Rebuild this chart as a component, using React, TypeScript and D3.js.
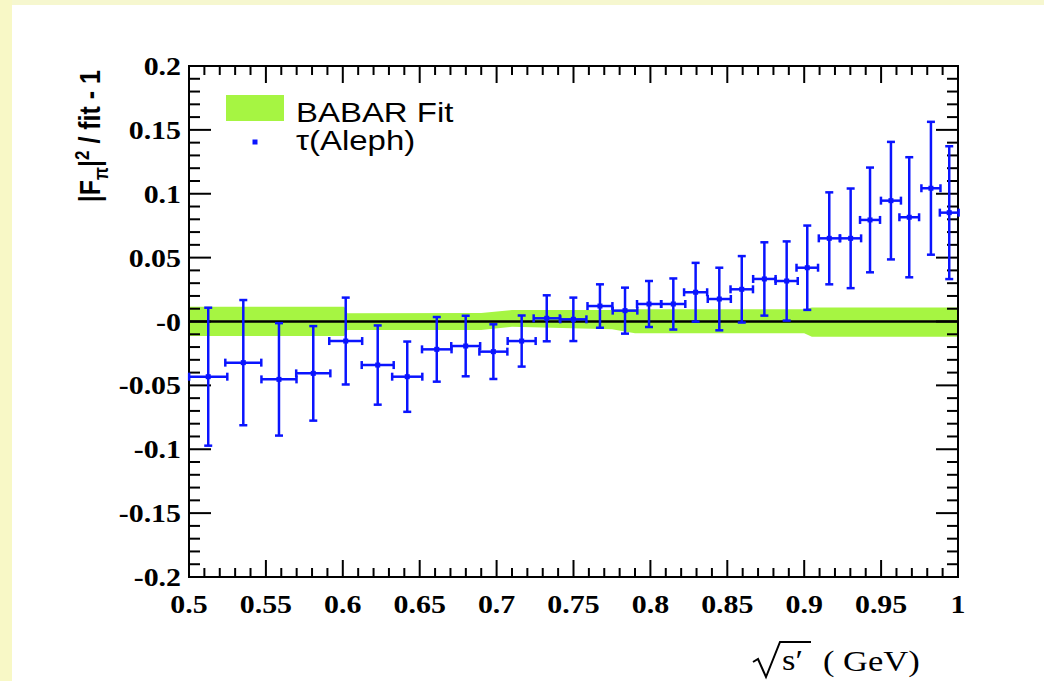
import React from "react";
import * as d3 from "d3";

// ---- data ----
const xVals = [0.5125, 0.5353, 0.5585, 0.5808, 0.6019, 0.6227, 0.6419, 0.6611, 0.6799, 0.6979, 0.7163, 0.7326, 0.7499, 0.7672, 0.7835, 0.7991, 0.8149, 0.8294, 0.8448, 0.8594, 0.8741, 0.8886, 0.902, 0.9163, 0.9302, 0.9428, 0.9564, 0.9683, 0.9824, 0.9943];
const xErr = [0.0124, 0.0117, 0.0114, 0.0111, 0.0107, 0.0104, 0.0098, 0.0096, 0.0094, 0.0091, 0.0091, 0.0085, 0.0085, 0.0081, 0.008, 0.0078, 0.0078, 0.0075, 0.0075, 0.0073, 0.0073, 0.0072, 0.007, 0.0068, 0.0068, 0.0065, 0.0065, 0.0064, 0.0062, 0.0061];
const yVals = [-0.0432, -0.0322, -0.0453, -0.0406, -0.0153, -0.0341, -0.0432, -0.0218, -0.0192, -0.0236, -0.0153, 0.0025, 0.0017, 0.0121, 0.0085, 0.0137, 0.0137, 0.0229, 0.0176, 0.0252, 0.0333, 0.0317, 0.0421, 0.0651, 0.0651, 0.0795, 0.0946, 0.0816, 0.1043, 0.0852];
const yErr = [0.054, 0.049, 0.044, 0.037, 0.034, 0.031, 0.0275, 0.0253, 0.0237, 0.0214, 0.02, 0.018, 0.017, 0.017, 0.018, 0.018, 0.02, 0.023, 0.0245, 0.026, 0.0287, 0.031, 0.033, 0.036, 0.039, 0.041, 0.046, 0.047, 0.052, 0.052];

const bandX = [0.5, 0.601, 0.603, 0.69, 0.71, 0.775, 0.79, 0.9, 0.905, 1.0];
const bandHi = [0.0116, 0.0116, 0.0064, 0.0066, 0.009, 0.009, 0.0095, 0.0095, 0.011, 0.011];
const bandLo = [-0.0114, -0.0114, -0.0067, -0.0067, -0.0041, -0.006, -0.0092, -0.0092, -0.012, -0.012];

const xTickVals = [0.5, 0.55, 0.6, 0.65, 0.7, 0.75, 0.8, 0.85, 0.9, 0.95, 1.0];
const xTickLabels = ["0.5", "0.55", "0.6", "0.65", "0.7", "0.75", "0.8", "0.85", "0.9", "0.95", "1"];
const yTickVals = [0.2, 0.15, 0.1, 0.05, 0, -0.05, -0.1, -0.15, -0.2];
const yTickLabels = ["0.2", "0.15", "0.1", "0.05", "-0", "-0.05", "-0.1", "-0.15", "-0.2"];

const legendLabels = ["BABAR Fit", "τ(Aleph)"];

// ---- layout ----
const W = 1044, H = 681;
const L = 189, R = 958, T = 66, B = 577;
const SX = 1.15;
const BLUE = "#0a14ff";
const GREEN = "#a6f542";

export default function App() {
  const x = d3.scaleLinear().domain([0.5, 1.0]).range([L, R]);
  const y = d3.scaleLinear().domain([-0.2, 0.2]).range([B, T]);

  const xMinor = d3.range(0, 51).map((i) => 0.5 + i * 0.01);
  const yMinor = d3.range(0, 41).map((i) => -0.2 + i * 0.01);

  const band = d3
    .area<number>()
    .x((_, i) => x(bandX[i]))
    .y0((_, i) => y(bandLo[i]))
    .y1((_, i) => y(bandHi[i]))(bandX);

  const isMajor = (v: number) => Math.abs(v * 20 - Math.round(v * 20)) < 1e-6;

  const tickStyle = { stroke: "#000", strokeWidth: 2 };
  const cap = 4;

  return (
    <div style={{ position: "fixed", left: 0, top: 0, width: W, height: H }}>
      <svg width={W} height={H} style={{ display: "block" }}>
        <rect x={0} y={0} width={W} height={H} fill="#ffffff" />
        <rect x={0} y={0} width={W} height={5} fill="#f6f7cf" />
        <rect x={0} y={0} width={12} height={H} fill="#f8f8c6" />

        {/* band */}
        <path d={band || ""} fill={GREEN} />
        {/* zero line */}
        <line x1={L} x2={R} y1={y(0)} y2={y(0)} stroke="#000" strokeWidth={2.5} />

        {/* ticks */}
        {xMinor.slice(1, -1).map((v, i) => {
          const len = isMajor(v) ? 17 : 9;
          return (
            <g key={"xt" + i}>
              <line x1={x(v)} x2={x(v)} y1={B} y2={B - len} {...tickStyle} />
              <line x1={x(v)} x2={x(v)} y1={T} y2={T + len} {...tickStyle} />
            </g>
          );
        })}
        {yMinor.slice(1, -1).map((v, i) => {
          const len = isMajor(v) ? 22 : 11;
          return (
            <g key={"yt" + i}>
              <line x1={L} x2={L + len} y1={y(v)} y2={y(v)} {...tickStyle} />
              <line x1={R} x2={R - len} y1={y(v)} y2={y(v)} {...tickStyle} />
            </g>
          );
        })}

        {/* frame */}
        <rect x={L} y={T} width={R - L} height={B - T} fill="none" stroke="#000" strokeWidth={2} />

        {/* data points */}
        {xVals.map((xv, i) => {
          const cx = x(xv);
          const cy = y(yVals[i]);
          const x0 = x(xv - xErr[i]);
          const x1 = x(xv + xErr[i]);
          const y0 = y(yVals[i] - yErr[i]);
          const y1 = y(yVals[i] + yErr[i]);
          return (
            <g key={"p" + i} stroke={BLUE} strokeWidth={2.5} fill="none">
              <line x1={cx} x2={cx} y1={y0} y2={y1} />
              <line x1={cx - cap} x2={cx + cap} y1={y0} y2={y0} />
              <line x1={cx - cap} x2={cx + cap} y1={y1} y2={y1} />
              <line x1={x0} x2={x1} y1={cy} y2={cy} />
              <line x1={x0} x2={x0} y1={cy - cap} y2={cy + cap} />
              <line x1={x1} x2={x1} y1={cy - cap} y2={cy + cap} />
              <rect x={cx - 2.5} y={cy - 2.5} width={5} height={5} fill={BLUE} stroke="none" />
            </g>
          );
        })}

        {/* x tick labels */}
        {xTickVals.map((v, i) => (
          <text
            key={"xl" + i}
            transform={`translate(${x(v)},613) scale(${SX},1)`}
            textAnchor="middle"
            fontFamily="'Liberation Serif', serif"
            fontWeight="bold"
            fontSize={26}
            fill="#000"
          >
            {xTickLabels[i]}
          </text>
        ))}
        {/* y tick labels */}
        {yTickVals.map((v, i) => (
          <text
            key={"yl" + i}
            transform={`translate(181,${y(v) + 9}) scale(${SX},1)`}
            textAnchor="end"
            fontFamily="'Liberation Serif', serif"
            fontWeight="bold"
            fontSize={26}
            fill="#000"
          >
            {yTickLabels[i]}
          </text>
        ))}

        {/* y axis title */}
        <text
          transform={`translate(100,70) scale(${SX},1) rotate(-90)`}
          textAnchor="end"
          fontFamily="'Liberation Sans', sans-serif"
          fontWeight="bold"
          fontSize={25}
          fill="#000"
        >
          |F<tspan fontSize={17} dy={7}>π</tspan>
          <tspan dy={-7}>|</tspan>
          <tspan fontSize={17} dy={-10}>2</tspan>
          <tspan dy={10}> / fit - 1</tspan>
        </text>

        {/* x axis title */}
        <path d="M753,662 L758,659 L766,677 L780,642 L811,642" fill="none" stroke="#000" strokeWidth={2} />
        <text
          transform={`translate(782,670) scale(${SX},1)`}
          fontFamily="'Liberation Serif', serif"
          fontSize={30}
          fill="#000"
        >
          s′
        </text>
        <text
          transform={`translate(823,671) scale(${SX},1)`}
          fontFamily="'Liberation Serif', serif"
          fontSize={30}
          fill="#000"
        >
          ( GeV)
        </text>

        {/* legend */}
        <rect x={226} y={95} width={58} height={26} fill={GREEN} />
        <text
          transform={`translate(296,122) scale(1.22,1)`}
          fontFamily="'Liberation Sans', sans-serif"
          fontSize={27}
          fill="#000"
        >
          {legendLabels[0]}
        </text>
        <rect x={252.5} y={139.5} width={5} height={5} fill={BLUE} />
        <text
          transform={`translate(296,150) scale(1.22,1)`}
          fontFamily="'Liberation Sans', sans-serif"
          fontSize={27}
          fill="#000"
        >
          {legendLabels[1]}
        </text>
      </svg>
    </div>
  );
}
